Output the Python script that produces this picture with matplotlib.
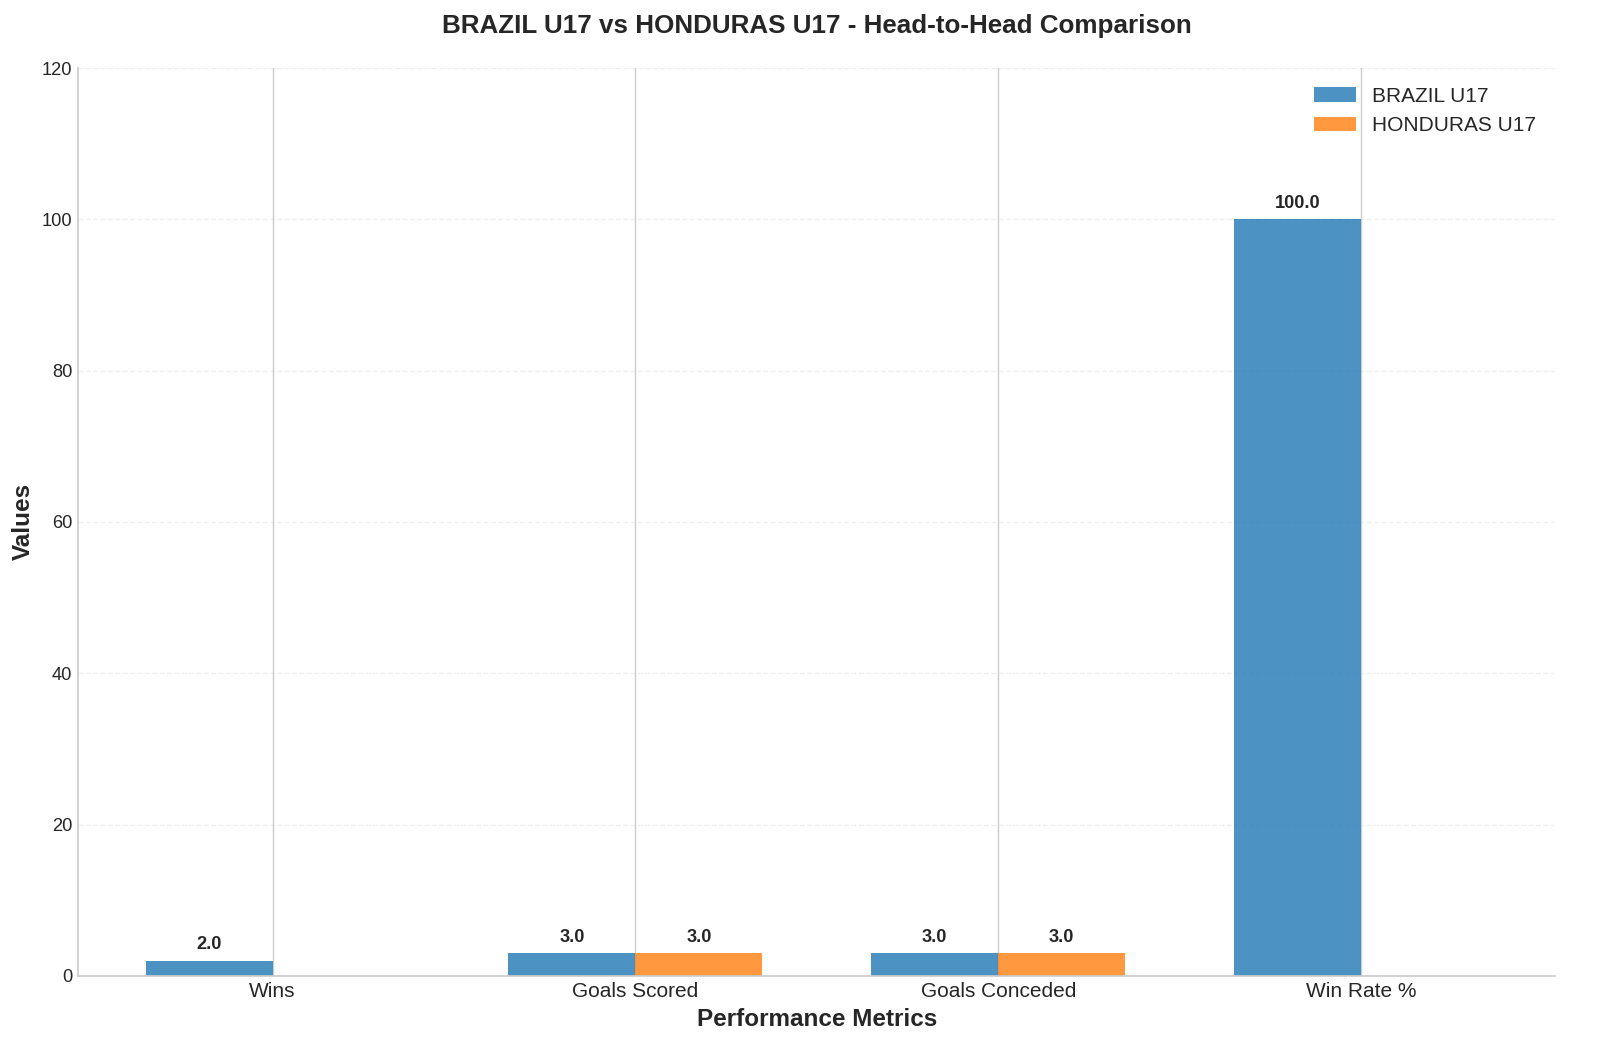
import matplotlib.pyplot as plt
import numpy as np

metrics = ['Wins', 'Goals Scored', 'Goals Conceded', 'Win Rate %']
brazil_values = [2.0, 3.0, 3.0, 100.0]
honduras_values = [0.0, 3.0, 3.0, 0.0]
team_names = ['BRAZIL U17', 'HONDURAS U17']

plt.style.use('seaborn-v0_8-whitegrid')
plt.rcParams['font.family'] = ['Liberation Sans', 'DejaVu Sans']

fig, ax = plt.subplots(figsize=(12.8, 8.504), dpi=125)
fig.subplots_adjust(left=0.049, right=0.972, top=0.936, bottom=0.082)

x = np.arange(len(metrics))
width = 0.35

bars1 = ax.bar(x - width/2, brazil_values, width, label=team_names[0], color='#1f77b4', alpha=0.8)
bars2 = ax.bar(x + width/2, honduras_values, width, label=team_names[1], color='#ff7f0e', alpha=0.8)

# value labels, only for non-zero bars
for bars in [bars1, bars2]:
    for bar in bars:
        h = bar.get_height()
        if h > 0:
            ax.text(bar.get_x() + bar.get_width()/2, h + 1, f'{h:.1f}',
                    ha='center', va='bottom', fontsize=10.5, fontweight='bold')

ax.set_xlabel('Performance Metrics', fontsize=14, fontweight='bold')
ax.set_ylabel('Values', fontsize=14, fontweight='bold')
ax.set_title('BRAZIL U17 vs HONDURAS U17 - Head-to-Head Comparison', fontsize=15, fontweight='bold', pad=20)
ax.set_xticks(x)
ax.set_xticklabels(metrics, fontsize=12)
ax.tick_params(axis='y', labelsize=10.5)
ax.set_ylim(0, 120)
ax.legend(fontsize=12, loc='upper right')
ax.grid(axis='y', linestyle='--', alpha=0.3)
ax.grid(axis='x', linestyle='-', alpha=1.0)
ax.spines['top'].set_visible(False)
ax.spines['right'].set_visible(False)
ax.spines['left'].set_color('#cccccc')
ax.spines['bottom'].set_color('#cccccc')

plt.savefig('out.png', dpi=125)
